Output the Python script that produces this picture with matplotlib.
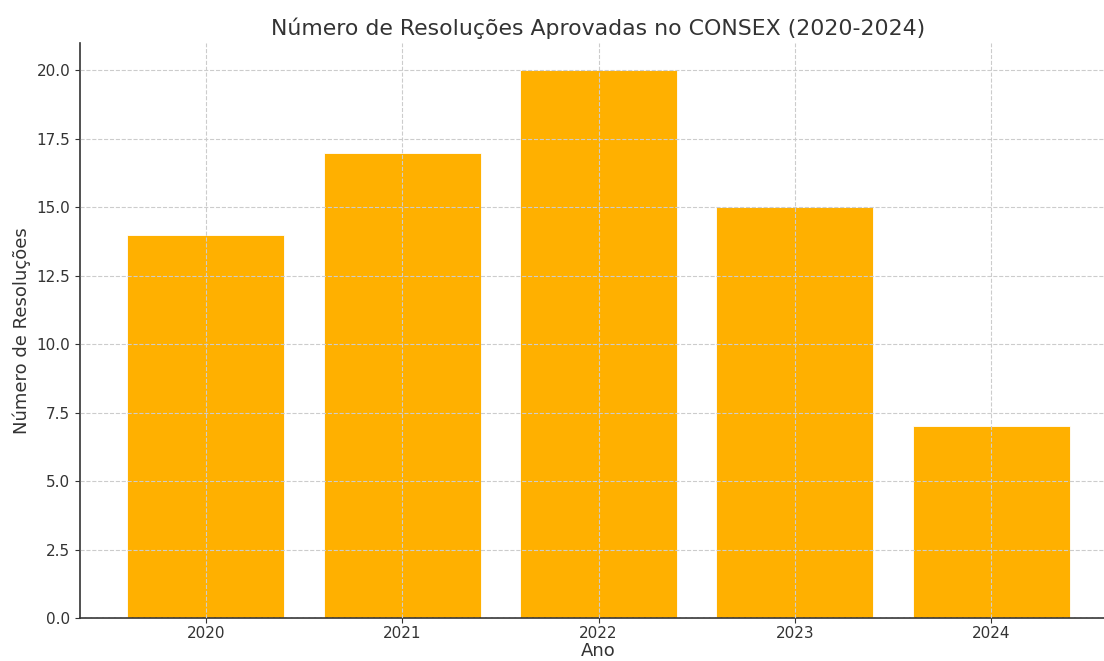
import matplotlib
matplotlib.use("Agg")
import matplotlib.pyplot as plt

# Data
anos = ["2020", "2021", "2022", "2023", "2024"]
resolucoes = [14, 17, 20, 15, 7]

TEXT = "#333333"

fig = plt.figure(figsize=(11.04, 6.61), dpi=100)
ax = fig.add_axes([80 / 1104, (661 - 618) / 661, (1117 - 80) / 1104, (618 - 43) / 661])

ax.bar(anos, resolucoes, width=0.8, color="#FFB000", edgecolor="white", linewidth=0.6)
ax.set_xlim(-0.64, 4.64)
ax.set_ylim(0, 21)
ax.set_yticks([0, 2.5, 5, 7.5, 10, 12.5, 15, 17.5, 20])
ax.set_yticklabels([f"{v:.1f}" for v in ax.get_yticks()])

ax.grid(True, linestyle="--", color="#cccccc", linewidth=0.8)
ax.set_axisbelow(False)

for side in ("top", "right"):
    ax.spines[side].set_visible(False)
for side in ("left", "bottom"):
    ax.spines[side].set_color(TEXT)
    ax.spines[side].set_linewidth(1.2)

ax.tick_params(colors=TEXT, labelsize=11)
ax.tick_params(axis="x", pad=2)
ax.set_xlabel("Ano", fontsize=13, color=TEXT, labelpad=1)
ax.set_ylabel("Número de Resoluções", fontsize=13, color=TEXT)
ax.set_title("Número de Resoluções Aprovadas no CONSEX (2020-2024)", fontsize=15.8,
             color=TEXT, pad=6)

fig.savefig("out.png", dpi=100)
